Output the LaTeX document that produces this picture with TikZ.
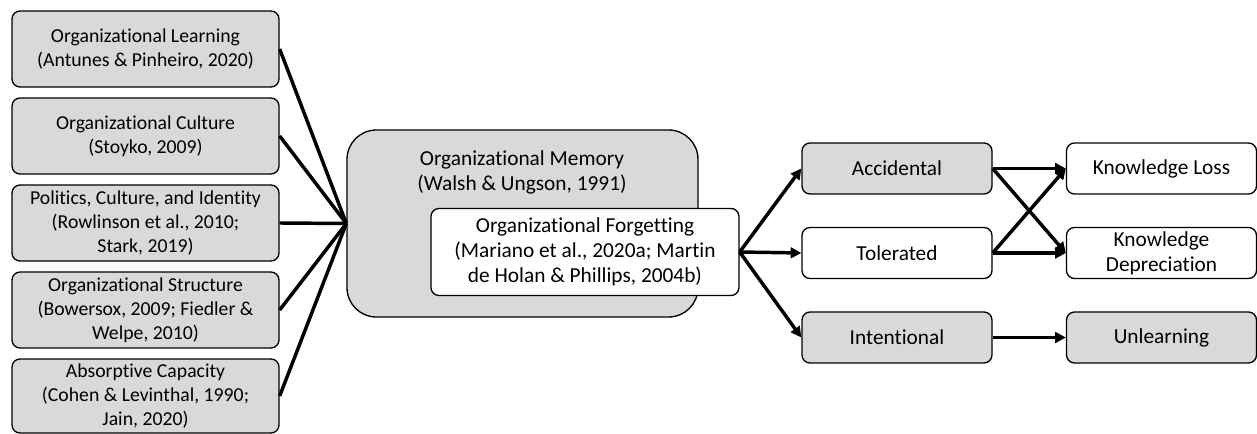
\documentclass[tikz,border=0pt]{standalone}
\usepackage{fontspec}
\setmainfont{Carlito}[Ligatures={NoCommon}]
\usetikzlibrary{arrows.meta}
\definecolor{boxgray}{HTML}{D9D9D9}
\begin{document}
\begin{tikzpicture}[x=0.75pt,y=-0.75pt,
  basebox/.style={draw=black, line width=1pt, rounded corners=6pt, align=center,
    inner sep=0pt, font=\fontsize{16}{19}\selectfont},
  greybox/.style={basebox, fill=boxgray},
  whitebox/.style={basebox, fill=white},
  srcbox/.style={greybox, minimum width=200.25pt, minimum height=57pt,
    font=\fontsize{14.8}{18}\selectfont},
  outbox/.style={minimum width=142.5pt, minimum height=38.25pt},
  link/.style={line width=2.6pt},
  flow/.style={line width=2.6pt, -{Triangle[length=8pt,width=8pt]}}
]
\useasboundingbox (0,0) rectangle (1257,434);

% influencing factors
\node[srcbox] (l1) at (145.5,49) {Organizational Learning\\(Antunes \& Pinheiro, 2020)};
\node[srcbox] (l2) at (145.5,136) {Organizational Culture\\(Stoyko, 2009)};
\node[srcbox] (l3) at (145.5,223) {Politics, Culture, and Identity\\(Rowlinson et al., 2010;\\Stark, 2019)};
\node[srcbox] (l4) at (145.5,310) {Organizational Structure\\(Bowersox, 2009; Fiedler \&\\Welpe, 2010)};
\node[srcbox, minimum height=55.5pt] (l5) at (145.5,396) {Absorptive Capacity\\(Cohen \& Levinthal, 1990;\\Jain, 2020)};

% memory with forgetting inside
\node[greybox, rounded corners=22pt, minimum width=263.25pt, minimum height=140.25pt] (mem) at (522.5,223.5) {};
\node[font=\fontsize{16}{18.75}\selectfont, align=center, inner sep=0pt] (memlbl) at (522,172.5) {Organizational Memory\\(Walsh \& Ungson, 1991)};
\node[whitebox, minimum width=231pt, minimum height=65.25pt, font=\fontsize{16}{18.75}\selectfont] (forg) at (585,252) {Organizational Forgetting\\(Mariano et al., 2020a; Martin\\de Holan \& Phillips, 2004b)};

% kinds of forgetting
\node[greybox, outbox] (acc) at (897,168.5) {Accidental};
\node[whitebox, outbox] (tol) at (897,253) {Tolerated};
\node[greybox, outbox] (int) at (897,337.5) {Intentional};

% outcomes
\node[whitebox, outbox] (kl) at (1161.5,168.5) {Knowledge Loss};
\node[whitebox, outbox] (kd) at (1161.5,253) {Knowledge\\Depreciation};
\node[greybox, outbox] (ul) at (1161.5,337.5) {Unlearning};

% connectors
\foreach \n in {l1,l2,l3,l4,l5} \draw[link] (\n.east) -- (mem.west);
\draw[flow] (forg.east) -- (acc.west);
\draw[flow] (forg.east) -- (tol.west);
\draw[flow] (forg.east) -- (int.west);
\draw[flow] (acc.east) -- (kl.west);
\draw[flow] (acc.east) -- (kd.west);
\draw[flow] (tol.east) -- (kl.west);
\draw[flow] (tol.east) -- (kd.west);
\draw[flow] (int.east) -- (ul.west);
\end{tikzpicture}
\end{document}
